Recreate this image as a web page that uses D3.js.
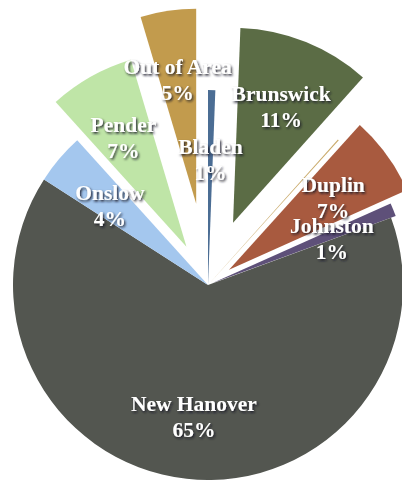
<!DOCTYPE html>
<html>
<head>
<meta charset="utf-8">
<script src="https://cdn.jsdelivr.net/npm/d3@7"></script>
<style>
  html, body { margin: 0; padding: 0; background: #ffffff; }
  svg { display: block; }
  .lbl { font-family: "Liberation Serif", "DejaVu Serif", serif; font-weight: bold; font-size: 21.5px; fill: #ffffff; }
</style>
</head>
<body>
<div id="chart"></div>
<script>
// ---- data ----
const categories = ["Bladen", "Brunswick", "", "Duplin", "Johnston", "New Hanover", "Onslow", "Pender", "Out of Area"];
const shares = [0.6, 11.0, 0.1, 6.6, 1.1, 64.7, 4.2, 7.1, 4.6];

// ---- style ----
const colors = ["#4b6d94", "#5b6c45", "#c9aa6a", "#a85a3f", "#5e5079", "#535650", "#a4c7ee", "#bfe5a7", "#c29b4d"];
const explode = [0, 67, 0, 26, 5, 0, 0, 44, 82];

const W = 402, H = 482;
const cx = 208, cy = 285, R = 195;

const svg = d3.select("#chart").append("svg").attr("width", W).attr("height", H);

const defs = svg.append("defs");
const f = defs.append("filter").attr("id", "shadow").attr("x", "-20%").attr("y", "-30%").attr("width", "140%").attr("height", "160%");
f.append("feDropShadow").attr("dx", 1.3).attr("dy", 1.6).attr("stdDeviation", 0.9)
  .attr("flood-color", "#151522").attr("flood-opacity", 0.9);

const data = categories.map((c, i) => ({ name: c, share: shares[i], color: colors[i], ex: explode[i] }));
const total = d3.sum(shares);

const pie = d3.pie().sort(null).value(d => d.share).startAngle(0).endAngle(2 * Math.PI);
const arcs = pie(data);
const arc = d3.arc().innerRadius(0).outerRadius(R);

const g = svg.append("g").attr("transform", `translate(${cx},${cy})`);

const slices = g.selectAll("g.slice").data(arcs).join("g").attr("class", "slice")
  .attr("transform", d => {
    const m = (d.startAngle + d.endAngle) / 2;
    return `translate(${d.data.ex * Math.sin(m)},${-d.data.ex * Math.cos(m)})`;
  });
slices.append("path").attr("d", arc).attr("fill", d => d.data.color);

const labels = g.selectAll("g.lab").data(arcs.filter(d => d.data.name !== "")).join("g").attr("class", "lab")
  .attr("filter", "url(#shadow)")
  .attr("transform", d => {
    const m = (d.startAngle + d.endAngle) / 2;
    const r = d.data.ex + 0.66 * R;
    return `translate(${r * Math.sin(m)},${-r * Math.cos(m)})`;
  });
labels.append("text").attr("class", "lbl").attr("text-anchor", "middle").attr("y", -2).text(d => d.data.name);
labels.append("text").attr("class", "lbl").attr("text-anchor", "middle").attr("y", 24)
  .text(d => Math.round(d.data.share / total * 100) + "%");
</script>
</body>
</html>
